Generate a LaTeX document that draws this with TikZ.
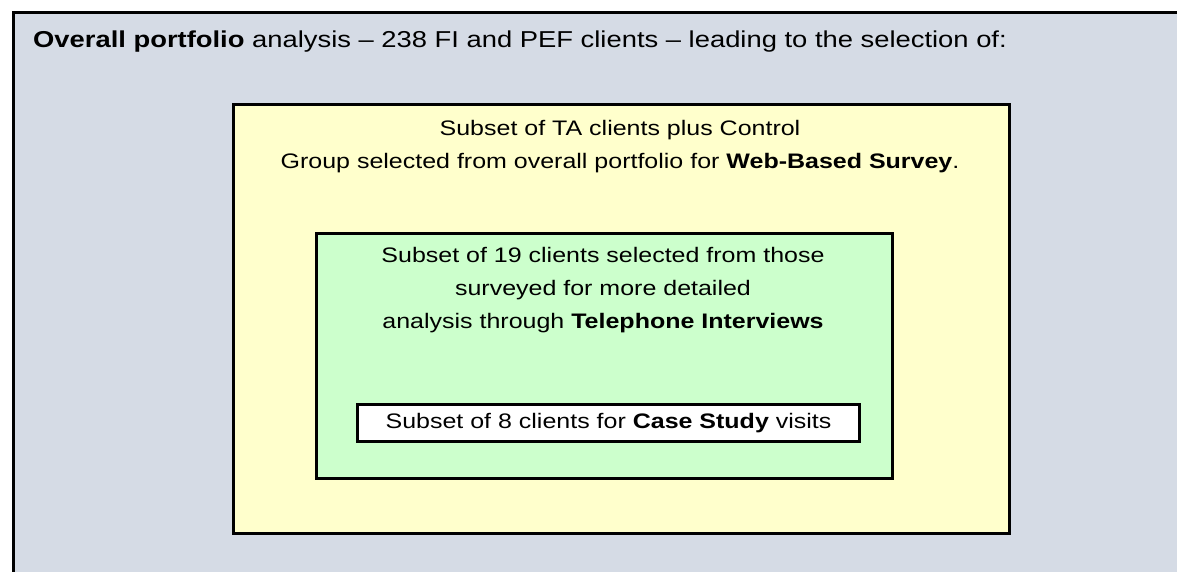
\documentclass[tikz,border=0pt]{standalone}
\usepackage{fontspec}
\setmainfont{Liberation Sans}[FakeStretch=1.19]
\usetikzlibrary{positioning}
\definecolor{portgray}{HTML}{D5DBE5}
\definecolor{surveyyellow}{HTML}{FFFFCC}
\definecolor{phonegreen}{HTML}{CCFFCC}
\tikzstyle{tier} = [draw, rectangle, line width=3pt, inner sep=0pt, anchor=north west]
\tikzstyle{label} = [align=center, inner sep=0pt, font=\fontsize{21}{33}\selectfont]

\begin{document}
\begin{tikzpicture}[x=1pt, y=-1pt]
    \useasboundingbox (0,0) rectangle (1177,571);
    \clip (0,0) rectangle (1177,571);
    \node [tier, fill=portgray, minimum width=1200pt, minimum height=600pt] (overall) at (12,11) {};
    \node [tier, fill=surveyyellow, minimum width=776pt, minimum height=429pt] (web) at (232,103) {};
    \node [tier, fill=phonegreen, minimum width=576pt, minimum height=245pt] (phone) at (315,232) {};
    \node [tier, fill=white, minimum width=502pt, minimum height=37pt] (case) at (356,403) {};

    \node [label, anchor=base west, font=\fontsize{23}{33}\selectfont] (overalltxt) at (33,47) {\textbf{Overall portfolio} analysis – 238 FI and PEF clients – leading to the selection of:};
    \node [label] (webtxt) at (620,147) {Subset of TA clients plus Control\\Group selected from overall portfolio for \textbf{Web-Based Survey}.};
    \node [label] (phonetxt) at (603,290) {Subset of 19 clients selected from those\\surveyed for more detailed\\analysis through \textbf{Telephone Interviews}};
    \node [label] (casetxt) at (case.center) {Subset of 8 clients for \textbf{Case Study} visits};
\end{tikzpicture}
\end{document}
